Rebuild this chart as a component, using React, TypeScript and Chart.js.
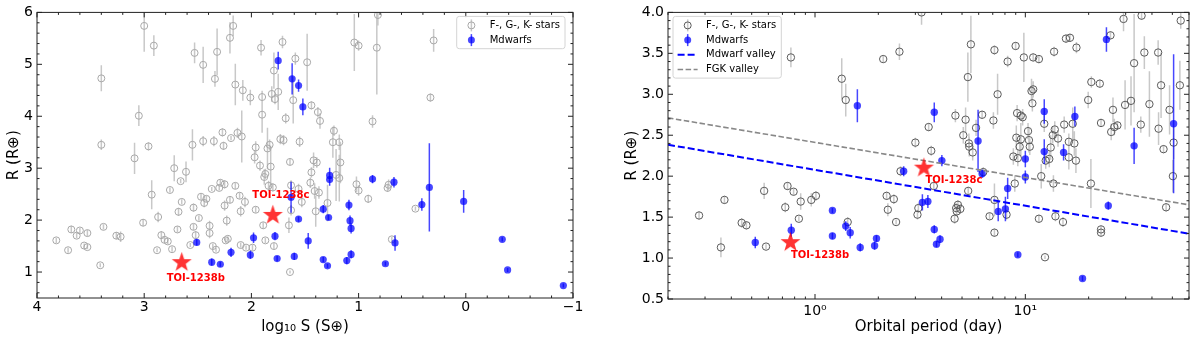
import React, { useEffect, useRef } from "react";
import { Chart, registerables } from "chart.js";
Chart.register(...registerables);

const FONT = "'DejaVu Sans', sans-serif";

// ---------------- Left panel: insolation vs radius ----------------
const leftFgkLogS = [3.82,3.71,3.68,3.63,3.60,3.56,3.53,3.53,3.41,3.40, 3.40,3.38,3.26,3.22,3.09,3.05,3.01,3.00,2.96,2.93, 2.91,2.88,2.87,2.84,2.81,2.78,2.76,2.74,2.72,2.69, 2.68,2.66,2.65,2.61,2.57,2.55,2.54,2.54,2.52,2.53, 2.49,2.47,2.45,2.45,2.44,2.42,2.39,2.39,2.37,2.36, 2.35,2.34,2.33,2.32,2.30,2.29,2.27,2.26,2.25,2.25, 2.24,2.23,2.22,2.20,2.20,2.19,2.17,2.15,2.15,2.13, 2.11,2.10,2.10,2.09,2.08,2.06,2.05,2.01,1.99,1.97, 1.96,1.96,1.92,1.91,1.90,1.90,1.89,1.88,1.87,1.87, 1.85,1.84,1.83,1.82,1.81,1.80,1.79,1.79,1.78,1.75, 1.73,1.71,1.70,1.68,1.65,1.64,1.64,1.63,1.61,1.63, 1.59,1.56,1.55,1.53,1.48,1.45,1.44,1.44,1.42,1.41, 1.40,1.39,1.38,1.37,1.36,1.29,1.24,1.23,1.21,1.18, 1.17,1.18,1.04,1.02,1.00,1.00,0.91,0.87,0.83,0.82, 0.73,0.72,0.69,0.47,0.33,0.30];
const leftFgkR = [1.61,1.42,1.82,1.70,1.80,1.51,1.48,1.75,1.13,4.73, 3.45,1.87,1.70,1.68,3.19,4.01,1.95,5.74,3.42,2.49, 5.36,1.42,2.06,1.71,1.62,1.59,2.58,1.44,3.00,1.82, 2.16,2.75,2.35,2.93,1.52,3.45,2.24,1.87,1.71,5.22, 2.04,2.45,4.99,3.52,2.33,2.41,1.89,1.75,2.60,1.50, 3.52,4.72,1.43,5.24,2.62,2.72,3.69,3.43,2.28,2.69, 1.61,1.99,1.64,5.51,2.39,3.58,5.74,4.61,2.66,3.68, 2.47,1.52,2.17,3.61,4.50,2.35,1.47,4.36,1.47,3.21, 3.40,2.20,3.05,5.32,4.37,4.03,1.90,2.83,2.89,1.61, 3.38,2.66,3.45,3.03,4.43,2.63,1.50,4.88,4.33,4.47, 3.56,5.43,3.54,3.96,1.90,1.00,3.12,2.67,4.31,2.19, 5.11,2.60,3.51,2.35,5.04,2.72,2.92,4.21,3.15,2.56, 2.17,3.11,4.08,2.53,3.91,2.33,3.50,3.72,2.87,3.50, 3.11,2.81,5.42,2.69,5.36,2.57,2.41,3.90,5.32,5.95, 2.62,2.68,1.63,2.22,4.36,5.46];
const leftFgkErr = [.05,.05,.07,.05,.05,.04,.04,.06,.04,.25, .1,.05,.07,.1,.3,.2,.07,.5,.08,.28, .2,.04,.1,.08,.05,.05,.05,.05,.25,.06, .08,.04,.05,.2,.04,.3,.08,.06,.08,.2, .05,.06,.35,.1,.08,.06,.1,.1,.04,.05, .1,.15,.04,.45,.05,.06,.08,.08,.1,.08, .05,.1,.05,.3,.06,.04,.2,.4,.06,.1, .06,.05,.1,.5,.2,.1,.04,.15,.06,.12, .12,.06,.1,.15,.12,.35,.06,.15,.1,.05, .4,.1,.1,.4,.15,.08,.06,.35,.1,.35, .1,.12,.1,.1,.15,.03,.06,.1,.45,.1, .12,.1,.1,.1,.55,.1,.1,.08,.15,.15, .3,.1,.1,.12,.15,.35,.3,.1,.5,.15, .4,.45,.55,.15,.1,.1,.08,.12,.9,.2, .08,.1,.05,.04,.08,.22];

const leftMLogS = [2.51,2.37,2.29,2.19,2.01,1.98,1.78,1.76,1.75,1.62, 1.60,1.56,1.56,1.52,1.47,1.63,1.33,1.28,1.27,1.27, 1.33,1.29,1.09,1.08,1.07,1.07,1.11,0.87,0.75,0.67, 0.66,0.41,0.34,0.02,-0.34,-0.39,-0.91];
const leftMR = [1.57,1.19,1.15,1.38,1.33,1.66,1.69,1.26,5.07,4.72, 1.30,4.59,2.02,4.18,1.60,2.44,2.21,2.05,2.86,2.78, 1.24,1.12,2.29,1.99,1.84,1.34,1.22,2.79,1.16,2.73, 1.56,2.30,2.63,2.36,1.63,1.04,0.74];
const leftMErr = [.06,.07,.05,.09,.08,.1,.08,.05,.17,.3, .07,.12,.05,.16,.15,.3,.08,.05,.15,.12, .05,.04,.1,.1,.1,.08,.07,.08,.04,.1, .15,.12,.85,.22,.04,.04,.04];

// ---------------- Right panel: orbital period vs radius ----------------
const rightFgkP = [0.281,0.357,0.371,0.448,0.472,0.573,0.585,0.722,0.740,0.768, 0.791,0.838,0.855,0.960,1.01,1.34,1.40,1.43,2.11,2.19, 2.22,2.37,2.43,2.52,2.55,3.00,3.07,3.10,3.21,3.47, 3.57,3.67,4.61,4.65,4.69,4.72,4.78,4.91,5.07,5.20, 5.33,5.39,5.41,5.35,5.51,5.62,5.83,6.23,6.31,6.76, 7.05,7.13,7.13,7.13,7.38,8.14,8.24,8.77,8.91,8.99, 9.06,9.14,9.21,9.40,9.52,9.52,9.71,9.84,10.3,10.4, 10.5,10.7,10.8,10.9,10.9,11.6,11.6,11.9,12.3,12.4, 12.5,13.0,13.2,13.5,13.6,13.7,13.8,13.9,14.3,15.1, 15.3,15.6,16.1,16.1,16.3,16.8,17.1,17.4,17.5,19.9, 20.5,20.6,22.6,22.9,22.9,22.9,25.4,25.6,26.1,26.5, 27.4,29.3,29.8,31.8,32.9,35.4,35.7,36.8,38.9,42.8, 43.0,44.2,45.4,46.7,48.5,50.3,50.7,54.3,54.8];
const rightFgkR = [1.52,1.13,1.71,1.43,1.40,1.82,1.14,1.62,1.88,3.45, 1.81,1.48,1.69,1.71,1.76,3.19,2.93,1.44,3.43,1.76, 1.59,1.72,1.44,3.52,2.06,2.41,1.53,1.61,4.00,2.60, 2.31,1.88,1.48,2.74,1.61,1.57,1.65,1.60,2.50,2.69, 3.21,2.40,2.36,1.82,3.61,2.29,2.59,2.75,2.05,1.51, 2.68,1.71,1.31,3.54,3.00,1.53,3.40,2.24,1.91,3.59, 2.47,2.77,2.22,2.36,2.45,2.74,2.72,3.45,2.55,2.44, 2.36,3.04,2.89,3.06,3.45,3.43,1.48,2.00,2.64,1.01, 2.19,2.21,2.35,2.50,1.91,3.52,2.57,1.51,2.46,1.44, 2.63,3.68,2.42,2.23,3.69,2.64,2.40,2.19,3.57,2.93, 1.91,3.15,3.13,2.65,1.35,1.31,3.72,2.54,2.81,2.60, 2.62,3.92,2.87,2.92,3.38,2.63,3.96,3.51,2.88,3.51, 2.58,3.11,2.33,1.62,2.81,2.00,2.41,3.11,3.90];
const rightFgkErr = [.05,.12,.05,.06,.05,.1,.03,.06,.05,.12, .04,.03,.1,.08,.06,.25,.2,.06,.04,.05, .08,.06,.03,.1,.06,.06,.06,.06,.15,.05, .06,.05,.06,.08,.06,.06,.06,.06,.1,.15, .3,.12,.12,.05,.35,.1,.1,.05,.06,.04, .1,.2,.05,.06,.25,.06,.07,.1,.1,.05, .15,.1,.1,.1,.2,.05,.1,.3,.1,.15, .1,.15,.1,.1,.05,.05,.05,.15,.1,.02, .1,.1,.15,.1,.1,.06,.1,.06,.1,.06, .1,.05,.1,.15,.05,.2,.15,.15,.07,.1, .3,.07,.05,.05,.04,.04,.05,.1,.15,.1, .05,.15,.3,.3,.6,.1,.05,.2,.4,.15, .2,.4,.05,.05,.3,.2,.2,.3,.1];

const rightMP = [0.520,0.771,1.21,1.21,1.40,1.47,1.59,1.64,1.92,1.96, 2.64,3.24,3.44,3.69,3.69,3.78,3.93,4.01,5.96,6.23, 7.43,8.04,8.24,9.21,10.0,10.0,12.3,12.3,15.2,17.2, 18.7,24.3,24.8,32.9,50.7];
const rightMR = [1.19,1.34,1.58,1.27,1.39,1.31,2.86,1.13,1.15,1.24, 2.06,1.68,1.69,2.78,1.35,1.17,1.23,2.19,2.43,2.03, 1.57,1.60,1.85,1.04,2.21,1.99,2.79,2.30,2.29,2.73, 0.75,3.67,1.64,2.37,2.64];
const rightMErr = [.07,.08,.03,.04,.06,.07,.2,.05,.05,.04, .06,.1,.08,.12,.05,.04,.05,.07,.38,.05, .12,.15,.13,.03,.1,.08,.15,.15,.1,.12, .03,.15,.05,.22,.85];

// TOI-1238 planets
const toiNames = ["TOI-1238b", "TOI-1238c"];
const toiLogS = [2.65, 1.80];
const toiP = [0.7645, 3.294];
const toiR = [1.20, 2.11];

// radius valleys
const valleyP = [0.2, 60];
const mdwarfValleyR = [2.384, 1.297];
const fgkValleyR = [2.712, 1.650];

// axis ticks
const leftXTicks = [-1, 0, 1, 2, 3, 4];
const leftYTicks = [1, 2, 3, 4, 5, 6];
const rightXTicks = [1, 10];
const rightYTicks = [0.5, 1.0, 1.5, 2.0, 2.5, 3.0, 3.5, 4.0];

const minors = (from: number, to: number, div: number, every: number) => {
  const out: number[] = [];
  for (let k = from; k <= to; k++) if (k % every !== 0) out.push(k / div);
  return out;
};
const leftXMinor = minors(-5, 20, 5, 5);
const leftYMinor = minors(3, 30, 5, 5);
const rightYMinor = minors(5, 40, 10, 5);
const rightXMinor = [0.2,0.3,0.4,0.5,0.6,0.7,0.8,0.9,2,3,4,5,6,7,8,9,20,30,40,50,60];

const GRAY_L_EDGE = "#a8a8a8";
const GRAY_R_EDGE = "#5a5a5a";
const GRAY_BAR = "#c8c8c8";
const BLUE = "rgba(0,0,255,0.72)";
const STAR = "rgba(255,0,0,0.8)";

function makeStar(r: number, color: string) {
  const c = document.createElement("canvas");
  const s = Math.ceil(r * 2 + 2);
  c.width = s; c.height = s;
  const ctx = c.getContext("2d")!;
  ctx.fillStyle = color;
  ctx.beginPath();
  for (let i = 0; i < 10; i++) {
    const a = -Math.PI / 2 + (i * Math.PI) / 5;
    const rr = i % 2 === 0 ? r : r * 0.4;
    ctx.lineTo(s / 2 + rr * Math.cos(a), s / 2 + rr * Math.sin(a) + r * 0.08);
  }
  ctx.closePath();
  ctx.fill();
  return c;
}

function errorBarPlugin(specs: { index: number; err: number[]; color: string; width: number }[]) {
  return {
    id: "errbars",
    beforeDatasetDraw(chart: any, args: any) {
      const spec = specs.find((s) => s.index === args.index);
      if (!spec) return;
      const meta = chart.getDatasetMeta(args.index);
      const ys = chart.scales.y;
      const pts = chart.data.datasets[args.index].data;
      const { ctx, chartArea: a } = chart;
      ctx.save();
      ctx.beginPath();
      ctx.rect(a.left, a.top, a.right - a.left, a.bottom - a.top);
      ctx.clip();
      ctx.strokeStyle = spec.color;
      ctx.lineWidth = spec.width;
      ctx.beginPath();
      meta.data.forEach((el: any, i: number) => {
        const v = pts[i].y;
        const e = spec.err[i] ?? 0.08;
        ctx.moveTo(el.x, ys.getPixelForValue(v - e));
        ctx.lineTo(el.x, ys.getPixelForValue(v + e));
      });
      ctx.stroke();
      ctx.restore();
    },
  };
}

function frameTicksPlugin(xMajor: number[], xMinor: number[], yMajor: number[], yMinor: number[]) {
  return {
    id: "frameTicks",
    afterDatasetsDraw(chart: any) {
      const { ctx, chartArea: a, scales } = chart;
      const x = scales.x, y = scales.y;
      ctx.save();
      ctx.strokeStyle = "#222";
      ctx.lineWidth = 1;
      ctx.beginPath();
      const tick = (vals: number[], len: number, horiz: boolean) => {
        vals.forEach((v) => {
          if (horiz) {
            const p = x.getPixelForValue(v);
            if (p < a.left - 0.5 || p > a.right + 0.5) return;
            ctx.moveTo(p, a.bottom); ctx.lineTo(p, a.bottom - len);
            ctx.moveTo(p, a.top); ctx.lineTo(p, a.top + len);
          } else {
            const p = y.getPixelForValue(v);
            if (p < a.top - 0.5 || p > a.bottom + 0.5) return;
            ctx.moveTo(a.left, p); ctx.lineTo(a.left + len, p);
            ctx.moveTo(a.right, p); ctx.lineTo(a.right - len, p);
          }
        });
      };
      tick(xMajor, 5, true); tick(xMinor, 2.5, true);
      tick(yMajor, 5, false); tick(yMinor, 2.5, false);
      ctx.stroke();
      ctx.strokeRect(a.left, a.top, a.right - a.left, a.bottom - a.top);
      ctx.restore();
    },
  };
}

function starLabelPlugin(index: number, labels: { dx: number; dy: number; align: CanvasTextAlign }[]) {
  return {
    id: "starLabels",
    afterDraw(chart: any) {
      const meta = chart.getDatasetMeta(index);
      const ctx = chart.ctx;
      ctx.save();
      ctx.font = `bold 10px ${FONT}`;
      ctx.fillStyle = "#ff0000";
      ctx.textBaseline = "middle";
      meta.data.forEach((el: any, i: number) => {
        const l = labels[i];
        ctx.textAlign = l.align;
        ctx.fillText(toiNames[i], el.x + l.dx, el.y + l.dy);
      });
      ctx.restore();
    },
  };
}

type LegendItem = { kind: "fgk" | "m" | "dash"; label: string; color: string; bar?: string; width?: number };

function legendPlugin(items: LegendItem[], anchor: "left" | "right") {
  return {
    id: "customLegend",
    afterDraw(chart: any) {
      const { ctx, chartArea: a } = chart;
      ctx.save();
      ctx.font = `10px ${FONT}`;
      const tw = Math.max(...items.map((it) => ctx.measureText(it.label).width));
      const w = 33 + tw + 5;
      const rowH = 14.7;
      const h = 9 + rowH * (items.length - 1) + 8.6;
      const bx = anchor === "right" ? a.right - 8 - w : a.left + 5;
      const by = a.top + 4;
      ctx.beginPath();
      const r = 2.5;
      ctx.moveTo(bx + r, by);
      ctx.arcTo(bx + w, by, bx + w, by + h, r);
      ctx.arcTo(bx + w, by + h, bx, by + h, r);
      ctx.arcTo(bx, by + h, bx, by, r);
      ctx.arcTo(bx, by, bx + w, by, r);
      ctx.closePath();
      ctx.fillStyle = "rgba(255,255,255,0.85)";
      ctx.fill();
      ctx.strokeStyle = "#d4d4d4";
      ctx.lineWidth = 1;
      ctx.stroke();
      items.forEach((it, i) => {
        const yy = by + 9 + i * rowH;
        const mx = bx + 14.7;
        if (it.kind === "fgk" || it.kind === "m") {
          ctx.strokeStyle = it.bar || it.color;
          ctx.lineWidth = 1.5;
          ctx.setLineDash([]);
          ctx.beginPath();
          ctx.moveTo(mx, yy - 6); ctx.lineTo(mx, yy + 6);
          ctx.stroke();
          ctx.beginPath();
          ctx.arc(mx, yy, 3.5, 0, Math.PI * 2);
          if (it.kind === "m") { ctx.fillStyle = it.color; ctx.fill(); }
          else { ctx.strokeStyle = it.color; ctx.lineWidth = 1; ctx.stroke(); }
        } else {
          ctx.strokeStyle = it.color;
          ctx.lineWidth = it.width || 1.5;
          ctx.setLineDash(it.width && it.width > 1.8 ? [7, 3] : [5.5, 2.5]);
          ctx.beginPath();
          ctx.moveTo(bx + 4.6, yy); ctx.lineTo(bx + 24.6, yy);
          ctx.stroke();
          ctx.setLineDash([]);
        }
        ctx.fillStyle = "#000";
        ctx.textAlign = "left";
        ctx.textBaseline = "middle";
        ctx.fillText(it.label, bx + 33, yy);
      });
      ctx.restore();
    },
  };
}

const tickFont = { family: FONT, size: 14 };
const titleFont = { family: FONT, size: 15 };
const minus = (v: number) => (v < 0 ? "\u2212" + Math.abs(v) : String(v));

export default function App() {
  const leftRef = useRef<HTMLCanvasElement>(null);
  const rightRef = useRef<HTMLCanvasElement>(null);

  useEffect(() => {
    Chart.defaults.font.family = FONT;
    const starImg = makeStar(10.5, STAR);

    const left = new Chart(leftRef.current!, {
      type: "scatter",
      data: {
        datasets: [
          {
            label: "F-, G-, K- stars",
            data: leftFgkLogS.map((s, i) => ({ x: s, y: leftFgkR[i] })),
            pointStyle: "circle", pointRadius: 3.5,
            backgroundColor: "rgba(0,0,0,0)", borderColor: GRAY_L_EDGE, borderWidth: 1, order: 3,
          },
          {
            label: "Mdwarfs",
            data: leftMLogS.map((s, i) => ({ x: s, y: leftMR[i] })),
            pointStyle: "circle", pointRadius: 3.6,
            backgroundColor: BLUE, borderColor: "rgba(0,0,0,0)", borderWidth: 0, order: 2,
          },
          {
            label: "TOI-1238",
            data: toiLogS.map((s, i) => ({ x: s, y: toiR[i] })),
            pointStyle: starImg as any, pointRadius: 10, order: 1,
          },
        ],
      },
      options: {
        responsive: false, animation: false,
        layout: { padding: { top: 11, right: 27, left: 0, bottom: 0 } },
        scales: {
          x: {
            type: "linear", min: -1, max: 4, reverse: true,
            grid: { display: false, drawTicks: false }, border: { display: false },
            ticks: { padding: 1, color: "#000", font: tickFont, callback: (v: any) => minus(Number(v)) },
            afterBuildTicks: (s: any) => { s.ticks = leftXTicks.map((v) => ({ value: v })); },
            afterFit: (s: any) => { s.height = 41; },
            title: { display: true, text: "log\u2081\u2080 S (S\u2295)", color: "#000", font: titleFont, padding: { top: 0, bottom: 3 } },
          },
          y: {
            type: "linear", min: 0.5, max: 6,
            grid: { display: false, drawTicks: false }, border: { display: false },
            ticks: { padding: 4, color: "#000", font: tickFont, callback: (v: any) => String(v) },
            afterBuildTicks: (s: any) => { s.ticks = leftYTicks.map((v) => ({ value: v })); },
            afterFit: (s: any) => { s.width = 37; },
            title: { display: true, text: "R (R\u2295)", color: "#000", font: titleFont, padding: { top: 5, bottom: 0 } },
          },
        },
        plugins: { legend: { display: false }, tooltip: { enabled: false } },
      },
      plugins: [
        errorBarPlugin([
          { index: 0, err: leftFgkErr, color: GRAY_BAR, width: 1.5 },
          { index: 1, err: leftMErr, color: BLUE, width: 1.5 },
        ]),
        frameTicksPlugin(leftXTicks, leftXMinor, leftYTicks, leftYMinor),
        starLabelPlugin(2, [
          { dx: 14, dy: 17, align: "center" },
          { dx: 8, dy: -19, align: "center" },
        ]),
        legendPlugin([
          { kind: "fgk", label: "F-, G-, K- stars", color: GRAY_L_EDGE, bar: GRAY_BAR },
          { kind: "m", label: "Mdwarfs", color: BLUE, bar: BLUE },
        ], "right"),
      ],
    } as any);

    const right = new Chart(rightRef.current!, {
      type: "scatter",
      data: {
        datasets: [
          {
            label: "F-, G-, K- stars",
            data: rightFgkP.map((p, i) => ({ x: p, y: rightFgkR[i] })),
            pointStyle: "circle", pointRadius: 3.7,
            backgroundColor: "rgba(0,0,0,0)", borderColor: GRAY_R_EDGE, borderWidth: 1, order: 5,
          },
          {
            label: "Mdwarfs",
            data: rightMP.map((p, i) => ({ x: p, y: rightMR[i] })),
            pointStyle: "circle", pointRadius: 3.7,
            backgroundColor: BLUE, borderColor: "rgba(0,0,0,0)", borderWidth: 0, order: 4,
          },
          {
            label: "Mdwarf valley", type: "line", showLine: true,
            data: valleyP.map((p, i) => ({ x: p, y: mdwarfValleyR[i] })),
            borderColor: "#0000ff", borderWidth: 2, borderDash: [7, 3], pointRadius: 0, fill: false, order: 3,
          },
          {
            label: "FGK valley", type: "line", showLine: true,
            data: valleyP.map((p, i) => ({ x: p, y: fgkValleyR[i] })),
            borderColor: "#888888", borderWidth: 1.6, borderDash: [5.5, 2.5], pointRadius: 0, fill: false, order: 2,
          },
          {
            label: "TOI-1238",
            data: toiP.map((p, i) => ({ x: p, y: toiR[i] })),
            pointStyle: starImg as any, pointRadius: 10, order: 1,
          },
        ],
      },
      options: {
        responsive: false, animation: false,
        layout: { padding: { top: 11, right: 3, left: 0, bottom: 0 } },
        scales: {
          x: {
            type: "logarithmic", min: 0.2, max: 60,
            grid: { display: false, drawTicks: false }, border: { display: false },
            ticks: { padding: 4, color: "#000", font: tickFont, callback: (v: any) => (Number(v) === 1 ? "10\u2070" : "10\u00b9") },
            afterBuildTicks: (s: any) => { s.ticks = rightXTicks.map((v) => ({ value: v })); },
            afterFit: (s: any) => { s.height = 40; },
            title: { display: true, text: "Orbital period (day)", color: "#000", font: titleFont, padding: { top: 0, bottom: 3 } },
          },
          y: {
            type: "linear", min: 0.5, max: 4.0,
            grid: { display: false, drawTicks: false }, border: { display: false },
            ticks: { padding: 4, color: "#000", font: tickFont, callback: (v: any) => Number(v).toFixed(1) },
            afterBuildTicks: (s: any) => { s.ticks = rightYTicks.map((v) => ({ value: v })); },
            afterFit: (s: any) => { s.width = 68; },
            title: { display: true, text: "R (R\u2295)", color: "#000", font: titleFont, padding: { top: 23, bottom: 0 } },
          },
        },
        plugins: { legend: { display: false }, tooltip: { enabled: false } },
      },
      plugins: [
        errorBarPlugin([
          { index: 0, err: rightFgkErr, color: GRAY_BAR, width: 1.5 },
          { index: 1, err: rightMErr, color: BLUE, width: 1.5 },
        ]),
        frameTicksPlugin(rightXTicks, rightXMinor, rightYTicks, rightYMinor),
        starLabelPlugin(4, [
          { dx: 0.5, dy: 13.5, align: "left" },
          { dx: 1.5, dy: 13.5, align: "left" },
        ]),
        legendPlugin([
          { kind: "fgk", label: "F-, G-, K- stars", color: GRAY_R_EDGE, bar: GRAY_BAR },
          { kind: "m", label: "Mdwarfs", color: BLUE, bar: BLUE },
          { kind: "dash", label: "Mdwarf valley", color: "#0000ff", width: 2 },
          { kind: "dash", label: "FGK valley", color: "#888888", width: 1.6 },
        ], "left"),
      ],
    } as any);

    return () => {
      left.destroy();
      right.destroy();
    };
  }, []);

  return (
    <div style={{ position: "absolute", left: 0, top: 0, width: 1200, height: 339, background: "#fff" }}>
      <canvas ref={leftRef} width={600} height={339} style={{ position: "absolute", left: 0, top: 0, width: 600, height: 339 }} />
      <canvas ref={rightRef} width={600} height={339} style={{ position: "absolute", left: 600, top: 0, width: 600, height: 339 }} />
    </div>
  );
}
